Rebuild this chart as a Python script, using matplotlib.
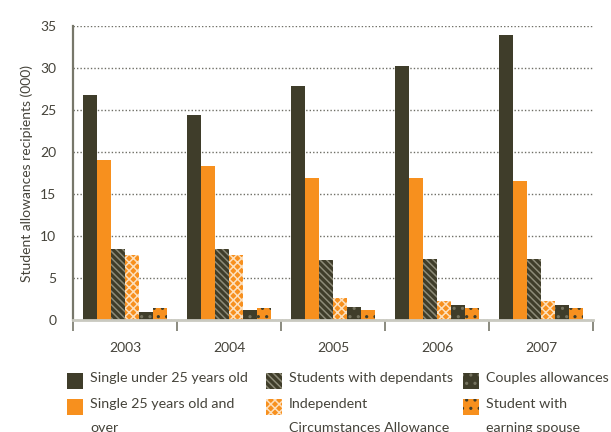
import matplotlib
matplotlib.use("Agg")
import matplotlib.pyplot as plt
from matplotlib.patches import Rectangle
import numpy as np

plt.rcParams["font.family"] = ["Lato", "DejaVu Sans"]
plt.rcParams["hatch.linewidth"] = 1.1

years = ["2003", "2004", "2005", "2006", "2007"]
series_names = [
    "Single under 25 years old",
    "Single 25 years old and\nover",
    "Students with dependants",
    "Independent\nCircumstances Allowance",
    "Couples allowances",
    "Student with\nearning spouse",
]
single_under_25 = [26.8, 24.4, 27.9, 30.2, 33.9]
single_25_over = [19.0, 18.3, 16.9, 16.9, 16.5]
with_dependants = [8.5, 8.5, 7.1, 7.3, 7.3]
independent_circ = [7.7, 7.7, 2.6, 2.3, 2.3]
couples = [1.0, 1.2, 1.5, 1.8, 1.8]
earning_spouse = [1.4, 1.4, 1.2, 1.4, 1.4]
values = [single_under_25, single_25_over, with_dependants,
          independent_circ, couples, earning_spouse]

DARK = "#3f3d2a"
ORANGE = "#f7901e"
TEXT = "#45433a"
styles = [
    dict(color=DARK, hatch=None, hc=DARK),
    dict(color=ORANGE, hatch=None, hc=ORANGE),
    dict(color=DARK, hatch="\\\\\\\\\\", hc="#8d8b78"),
    dict(color=ORANGE, hatch="xxxx", hc="#fde0bd"),
    dict(color=DARK, hatch="..", hc="#75735f"),
    dict(color=ORANGE, hatch="..", hc=DARK),
]

fig = plt.figure(figsize=(6.11, 4.32), dpi=100)
ax = fig.add_axes([73 / 611, 1 - 320 / 432, 520 / 611, 294 / 432])

x = np.arange(len(years))
width = 0.1346
n = len(values)
for k, (vals, st) in enumerate(zip(values, styles)):
    off = (k - (n - 1) / 2) * width
    ax.bar(x + off, vals, width, color=st["color"], hatch=st["hatch"],
           edgecolor=st["hc"], linewidth=0, zorder=3)

ax.set_xlim(-0.5, len(years) - 0.5)
ax.set_ylim(0, 35)
ax.set_yticks(np.arange(0, 36, 5))
ax.tick_params(axis="y", length=0, pad=12, labelsize=10, labelcolor=TEXT)
ax.yaxis.grid(True, linestyle=(0, (1, 1.5)), color="#6f6f66", linewidth=1.0, zorder=0)

ax.set_xticks(np.arange(-0.5, len(years), 1.0))
ax.set_xticklabels([])
ax.tick_params(axis="x", which="major", length=8, width=1.2, color="#77776a", direction="out")
ax.set_xticks(x, minor=True)
ax.set_xticklabels(years, minor=True)
ax.tick_params(axis="x", which="minor", length=0, pad=16, labelsize=10, labelcolor=TEXT)

for s in ["top", "right"]:
    ax.spines[s].set_visible(False)
ax.spines["left"].set_color("#77776a")
ax.spines["left"].set_linewidth(1.6)
ax.spines["bottom"].set_color("#c9c9c0")
ax.spines["bottom"].set_linewidth(2.0)
ax.spines["bottom"].set_zorder(4)

ax.set_ylabel("Student allowances recipients (000)", fontsize=10, color=TEXT, labelpad=5)

# legend drawn in figure pixels, three columns by two rows
col_x = [67, 266, 463]
row_y = [373, 399]
for k, (name, st) in enumerate(zip(series_names, styles)):
    col = k // 2
    row = k % 2
    px, py = col_x[col], row_y[row]
    rect = Rectangle((px / 611, 1 - (py + 16) / 432), 16 / 611, 16 / 432,
                     transform=fig.transFigure, facecolor=st["color"],
                     hatch=st["hatch"], edgecolor=st["hc"], linewidth=0)
    fig.add_artist(rect)
    fig.text((px + 23) / 611, 1 - (py - 1) / 432, name, fontsize=10.3,
             color=TEXT, va="top", ha="left", linespacing=2.2)

fig.savefig("out.png", dpi=100)
